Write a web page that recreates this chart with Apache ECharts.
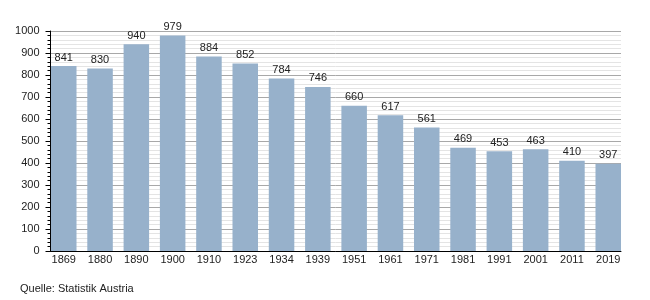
<!DOCTYPE html>
<html><head><meta charset="utf-8">
<script src="https://cdn.jsdelivr.net/npm/echarts@6/dist/echarts.min.js"></script>
<style>html,body{margin:0;padding:0;background:#fff}#c{width:650px;height:300px}</style>
</head><body><div id="c"></div>
<script>
const categories = ['1869','1880','1890','1900','1910','1923','1934','1939','1951','1961','1971','1981','1991','2001','2011','2019'];
const values = [841,830,940,979,884,852,784,746,660,617,561,469,453,463,410,397];
const yTicks = [0,100,200,300,400,500,600,700,800,900,1000];
const source = 'Quelle: Statistik Austria';

const font = 'Liberation Sans, Arial, sans-serif';
const chart = echarts.init(document.getElementById('c'), null, {renderer:'canvas'});
chart.setOption({
  animation:false,
  backgroundColor:'#fff',
  grid:[
    {left:50.5, right:29, top:31, bottom:49, containLabel:false},
    {left:45.6, right:23.6, top:31, bottom:49, containLabel:false}
  ],
  xAxis:[
    {gridIndex:0, type:'value', min:0, max:1, show:true,
     axisLine:{show:true, lineStyle:{color:'#000', width:1}},
     axisTick:{show:false}, axisLabel:{show:false}, splitLine:{show:false}},
    {gridIndex:1, type:'category', data:categories,
     axisLine:{show:false}, axisTick:{show:false},
     axisLabel:{color:'#222', fontSize:11, fontFamily:font, margin:3}}
  ],
  yAxis:[
    {gridIndex:0, type:'value', min:yTicks[0], max:yTicks[yTicks.length-1], interval:100,
     axisLine:{show:true, lineStyle:{color:'#000', width:1}},
     axisTick:{show:true, length:5, lineStyle:{color:'#000'}},
     minorTick:{show:true, splitNumber:5, length:3, lineStyle:{color:'#000'}},
     axisLabel:{color:'#222', fontSize:11, fontFamily:font, margin:11, formatter:v => String(v)},
     splitLine:{show:true, lineStyle:{color:'#a8a8a8', width:1}},
     minorSplitLine:{show:true, lineStyle:{color:'#e4e4e4', width:1}}},
    {gridIndex:1, type:'value', min:0, max:1000, show:false}
  ],
  series:[{
    type:'bar', xAxisIndex:1, yAxisIndex:1, data:values,
    barCategoryGap:'29.7%',
    itemStyle:{color:'#97b1cb'},
    label:{show:true, position:'top', distance:3, color:'#222', fontSize:11, fontFamily:font}
  }],
  graphic:[{type:'text', left:20, top:283,
    style:{text:source, fill:'#222', font:'11px '+font}}]
});
</script></body></html>
